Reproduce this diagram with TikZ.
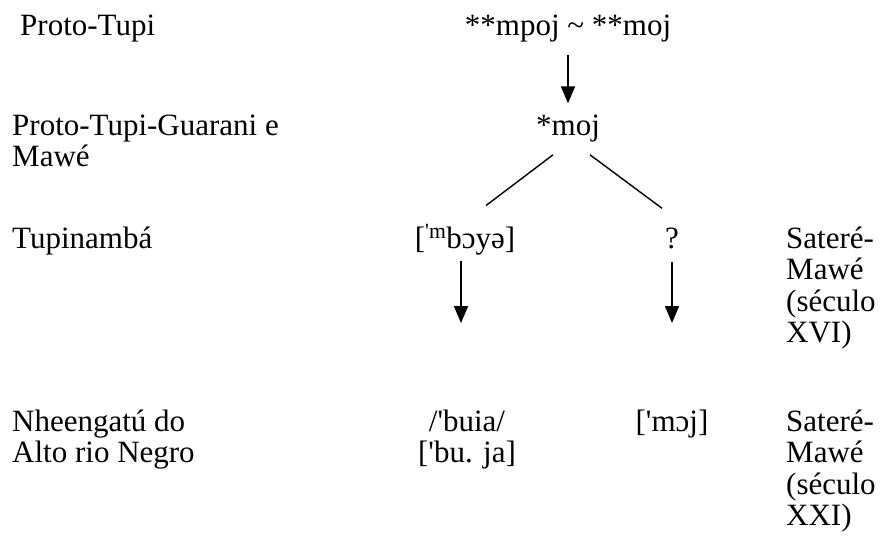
\documentclass[tikz,border=0pt]{standalone}
\usepackage{fontspec}
\setmainfont{LiberationSerif-Regular.ttf}[Ligatures=TeXOff]
\usetikzlibrary{arrows.meta}

\begin{document}
\begin{tikzpicture}[x=1pt, y=-1pt,
    lbl/.style={inner sep=0pt, font=\fontsize{31}{31.5}\selectfont},
    arr/.style={line width=1.8pt, -{Triangle[width=14pt,length=17pt]}},
    branch/.style={line width=1.4pt}]
    \useasboundingbox (0, 0) rectangle (889, 542);
    % stages, left column (base = last line)
    \node [lbl, anchor=base west] (0) at (20, 35) {Proto-Tupi};
    \node [lbl, anchor=base west, align=left] (2) at (12, 166.5) {Proto-Tupi-Guarani e\\Mawé};
    \node [lbl, anchor=base west] (4) at (12, 248) {Tupinambá};
    \node [lbl, anchor=base west, align=left] (10) at (12, 462.5) {Nheengatú do\\Alto rio Negro};
    % reconstructed forms
    \node [lbl, anchor=base] (1) at (568, 35) {**mpoj \textasciitilde{} **moj};
    \node [lbl, anchor=base] (3) at (568, 135) {*moj};
    \draw [arr, shorten <=13pt, shorten >=11pt] (1) -- (3);
    % split into the two branches
    \node [lbl, anchor=base] (5) at (465, 248) {[\textsuperscript{'m}bɔyə]};
    \node [lbl, anchor=base] (6) at (672, 248) {?};
    \draw [branch] ([shift={(-15pt,-13pt)}]3.south) -- ([shift={(21pt,19pt)}]5.north);
    \draw [branch] ([shift={(22pt,-13pt)}]3.south) -- ([shift={(-10pt,19pt)}]6.north);
    % Sateré-Mawé, right column
    \node [lbl, anchor=base west, align=left] (7) at (786, 342.5) {Sateré-\\Mawé\\(século\\XVI)};
    \node [lbl, anchor=base west, align=left] (11) at (786, 525.5) {Sateré-\\Mawé\\(século\\XXI)};
    % modern forms
    \node [lbl, anchor=base, align=center] (8) at (467, 462.5) {/'buia/\\{}['bu. ja]};
    \node [lbl, anchor=base] (9) at (672, 431) {['mɔj]};
    \coordinate (t5) at (461, 323);
    \coordinate (t6) at (672, 323);
    \draw [arr] ([yshift=-6pt]5.south -| t5) -- (t5);
    \draw [arr] ([yshift=-13pt]6.south -| t6) -- (t6);
\end{tikzpicture}
\end{document}
